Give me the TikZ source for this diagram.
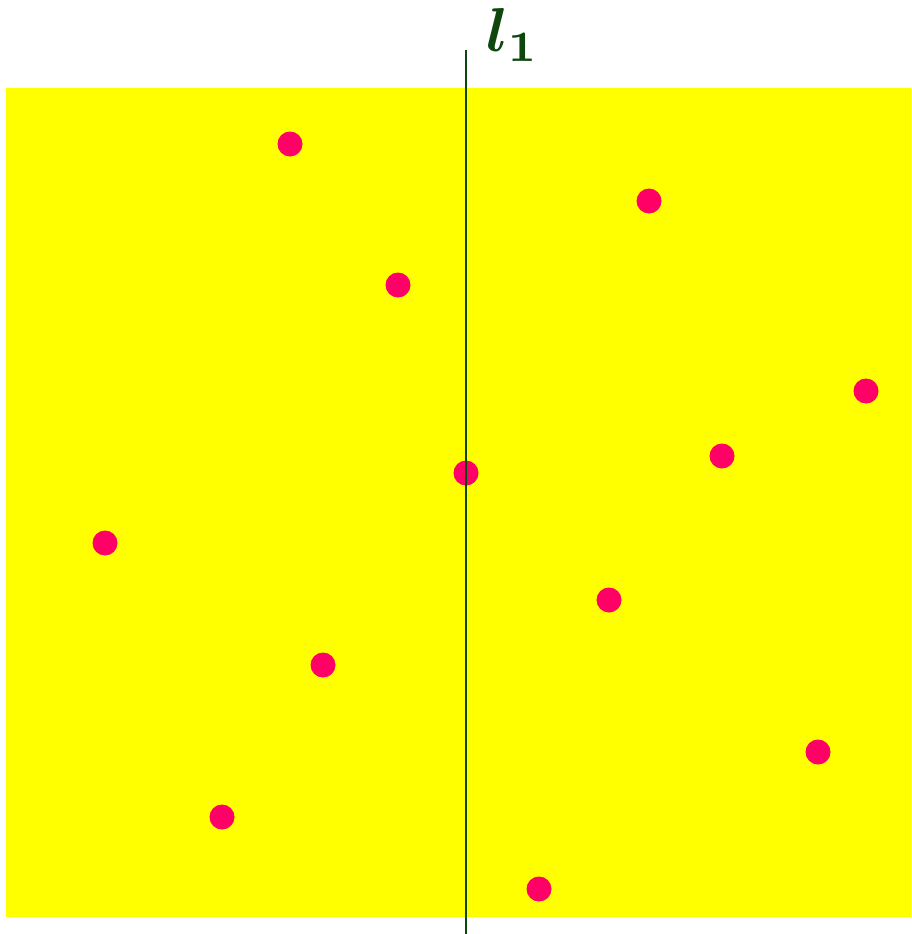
\documentclass[tikz,border=0pt]{standalone}
\usepackage{amsmath,bm}
\usepackage{graphicx}
\usepackage{tikz}
\usetikzlibrary{positioning,calc}
\definecolor{planeyellow}{HTML}{FFFF00}
\definecolor{pointpink}{HTML}{FF0066}
\definecolor{cutgreen}{HTML}{0D470D}

\begin{document}
\begin{tikzpicture}[x=1pt,y=-1pt,
pt/.style={fill=pointpink},
cutlabel/.style={inner sep=0pt,anchor=base west,text=cutgreen}]
\useasboundingbox (0,0) rectangle (911,934);
\fill[planeyellow] (6,88) rectangle (911,917);
\foreach \px/\py in {290/144,649/201,398/285,866/391,722/456,466/473,105/543,609/600,323/665,818/752,222/817,539/889}{\fill[pt] (\px,\py) circle (12.5);}
\coordinate (cuttop) at (466,50);
\coordinate (cutbot) at (466,934);
\draw[cutgreen,line width=2pt] (cuttop)--(cutbot);
\node[cutlabel] (lone) at (486,52) {\scalebox{6.2}{$\bm{l}_{\bm{1}}$}};
\end{tikzpicture}
\end{document}
